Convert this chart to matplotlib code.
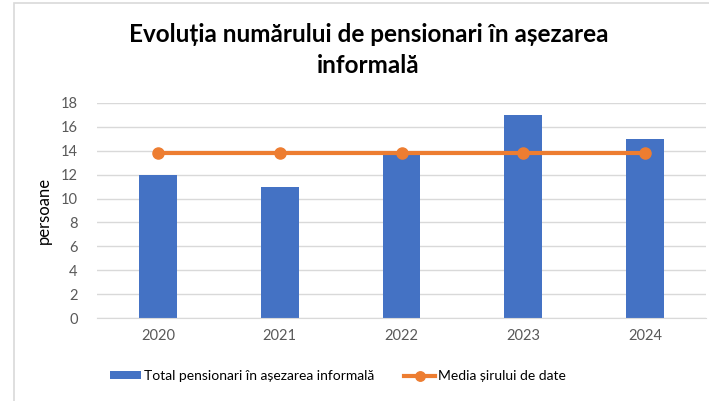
import matplotlib
matplotlib.use("Agg")
import matplotlib.pyplot as plt
from matplotlib.patches import Rectangle

years = ["2020", "2021", "2022", "2023", "2024"]
totals = [12, 11, 14, 17, 15]
mean_val = sum(totals) / len(totals)
means = [mean_val] * len(totals)

title = "Evoluția numărului de pensionari în așezarea\ninformală"
ylabel = "persoane"
bar_label = "Total pensionari în așezarea informală"
line_label = "Media șirului de date"
yticks = [0, 2, 4, 6, 8, 10, 12, 14, 16, 18]

plt.rcParams['font.family'] = ['Lato', 'DejaVu Sans']

W, H = 709, 401
fig = plt.figure(figsize=(W / 100, H / 100), dpi=100)
fig.patch.set_facecolor("white")
fig.add_artist(Rectangle((14 / W, -0.01), 1.0, 1 - 3 / H + 0.01, transform=fig.transFigure,
                         fill=False, edgecolor="#d9d9d9", linewidth=1.2))

ax = fig.add_axes([97 / W, 1 - 318 / H, (706 - 97) / W, (318 - 103) / H])
x = list(range(len(years)))
bars = ax.bar(x, totals, width=0.31, color="#4472c4", label=bar_label, zorder=2)
line, = ax.plot(x, means, color="#ed7d31", linewidth=3, marker="o", markersize=8,
                label=line_label, zorder=3)

ax.set_xlim(-0.5, len(years) - 0.5)
ax.set_ylim(0, 18)
ax.set_yticks(yticks)
ax.set_xticks(x)
ax.set_xticklabels(years)
ax.grid(axis="y", color="#d9d9d9", linewidth=1, zorder=0)
ax.set_axisbelow(True)
for s in ["top", "right", "left"]:
    ax.spines[s].set_visible(False)
ax.spines["bottom"].set_color("#d9d9d9")
ax.tick_params(axis="both", length=0, labelsize=10.5, colors="#595959", pad=8)
ax.tick_params(axis="y", pad=14)
ax.set_ylabel(ylabel, fontsize=12, color="black", labelpad=6)

fig.text(0.5 + 14 / W, 1 - 50 / H, title, ha="center", va="center", fontsize=17.5,
         fontweight="bold", linespacing=1.45)

leg = fig.legend([bars, line], [bar_label, line_label], loc="center",
                 bbox_to_anchor=(338 / W, 1 - 376 / H), ncol=2, frameon=False,
                 fontsize=10, handlelength=2.2, handleheight=0.5, columnspacing=2.2,
                 handletextpad=0.2, markerscale=0.85)

fig.savefig("out.png", dpi=100)
